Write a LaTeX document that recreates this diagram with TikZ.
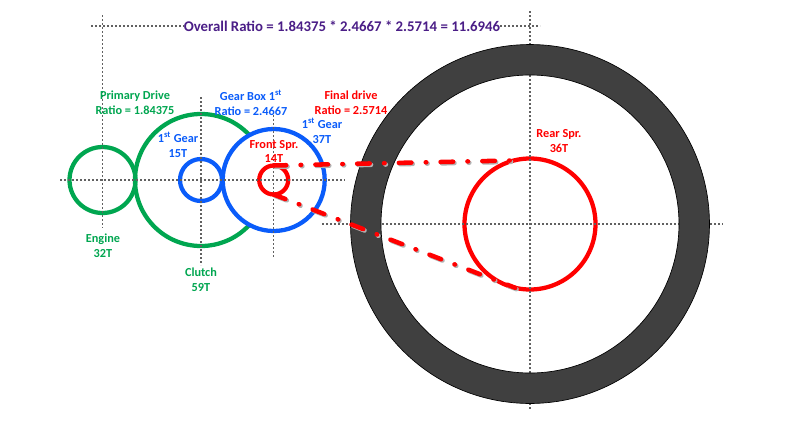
\documentclass[tikz,border=0pt]{standalone}
\usepackage{fontspec}
\setmainfont{Carlito}
\definecolor{gearGreen}{HTML}{00A650}
\definecolor{gearBlue}{HTML}{0A5CFA}
\definecolor{ratioPurple}{HTML}{4B1E87}
\definecolor{ringGrey}{HTML}{404040}
\tikzset{
  x=0.75pt,y=-0.75pt,
  gear/.style={circle,draw,line width=3.2pt,inner sep=0pt,outer sep=0pt},
  axisline/.style={draw=black!62,line width=0.9pt,dash pattern=on 1.6pt off 1.4pt},
  lbl/.style={align=center,font=\fontsize{9.2pt}{11.2pt}\selectfont\bfseries,inner sep=0pt},
  chain/.style={red,line width=3.4pt,line cap=round,dash pattern=on 9.4pt off 10.75pt on 0.4pt off 10.75pt},
  chainshadow/.style={black!30,line width=3.4pt,line cap=round,dash pattern=on 9.4pt off 10.75pt on 0.4pt off 10.75pt}
}
\begin{document}
\begin{tikzpicture}
\useasboundingbox (0,0) rectangle (786,422);
\fill[white] (0,0) rectangle (786,422);
% gears
\node[gear,draw=gearGreen,minimum size=49.5pt] (engine) at (102.5,180) {};
\node[gear,draw=gearGreen,minimum size=99pt] (clutch) at (201,180) {};
\node[gear,draw=gearBlue,minimum size=31.5pt] (first) at (201,180) {};
\node[gear,draw=gearBlue,fill=white,minimum size=76.5pt] (second) at (273.7,180) {};
\node[gear,draw=red,minimum size=21.75pt] (front) at (273.7,180) {};
\node[gear,draw=red,minimum size=98.25pt] (rear) at (530,224) {};
% centre lines
\coordinate (h1a) at (60,180); \coordinate (h1b) at (345,180);
\coordinate (h2a) at (322,224); \coordinate (h2b) at (723,224);
\coordinate (h3a) at (91,26); \coordinate (h3b) at (184,26);
\coordinate (h3c) at (500,26); \coordinate (h3d) at (540,26);
\coordinate (v1a) at (102.5,15); \coordinate (v1b) at (102.5,228);
\coordinate (v2a) at (201,97); \coordinate (v2b) at (201,265);
\coordinate (v3a) at (273.7,115); \coordinate (v3b) at (273.7,257);
\coordinate (v4a) at (530,11); \coordinate (v4b) at (530,410);
\path[axisline] (h1a)--(h1b) (h2a)--(h2b) (h3a)--(h3b) (h3c)--(h3d)
  (v1a)--(v1b) (v2a)--(v2b) (v3a)--(v3b) (v4a)--(v4b);
% rear wheel ring
\coordinate (ringc) at (530,224);
\path[draw=black,fill=ringGrey,line width=0.5pt,even odd rule]
  (ringc) circle[radius=134.6pt] (ringc) circle[radius=111.75pt];
% chain
\draw[chainshadow,transform canvas={xshift=1pt,yshift=-1pt}] (front.90) -- (rear.104);
\draw[chainshadow,transform canvas={xshift=1pt,yshift=-1pt}] (front.270) -- (rear.257);
\draw[chain] (front.90) -- (rear.104);
\draw[chain] (front.270) -- (rear.257);
% labels
\node[lbl,text=ratioPurple,font=\fontsize{11.1pt}{13pt}\selectfont\bfseries] (overall) at (342,26) {Overall Ratio = 1.84375 * 2.4667 * 2.5714 = 11.6946};
\node[lbl,text=gearGreen] (primary) at (135,103) {Primary Drive\\Ratio = 1.84375};
\node[lbl,text=gearBlue] (box) at (251,102.5) {Gear Box 1\textsuperscript{st}\\Ratio = 2.4667};
\node[lbl,text=red] (final) at (351,103) {Final drive\\Ratio = 2.5714};
\node[lbl,text=gearBlue] (gfifteen) at (178,145) {1\textsuperscript{st} Gear\\15T};
\node[lbl,text=gearBlue] (gthirtyseven) at (322,130.5) {1\textsuperscript{st} Gear\\37T};
\node[lbl,text=red] (fronttxt) at (274,151.5) {Front Spr.\\14T};
\node[lbl,text=red] (reartxt) at (559,141) {Rear Spr.\\36T};
\node[lbl,text=gearGreen] (enginetxt) at (103,246) {Engine\\32T};
\node[lbl,text=gearGreen] (clutchtxt) at (201,280) {Clutch\\59T};
\end{tikzpicture}
\end{document}
